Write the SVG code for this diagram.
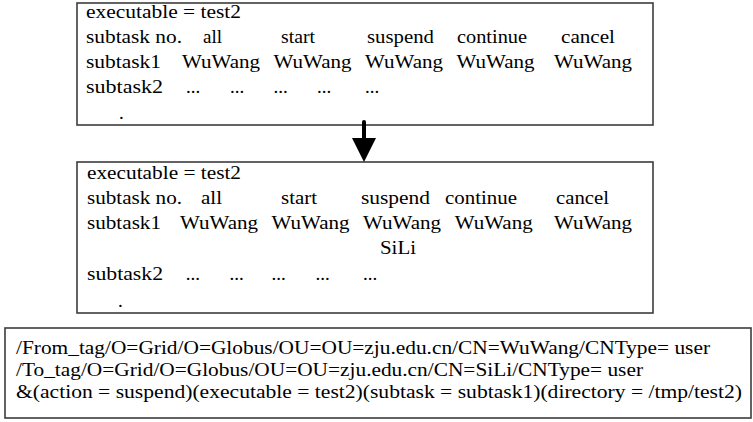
<svg xmlns="http://www.w3.org/2000/svg" width="753" height="422" viewBox="0 0 753 422">
<style>
.box{fill:#fff;stroke:#3c3c3c;stroke-width:1.6}
.t{font-family:"Liberation Serif","Times New Roman",serif;font-size:19px;fill:#000}
.arrow{stroke:#000;stroke-width:4;stroke-linecap:round}
</style>
<rect width="753" height="422" fill="#fff"/>
<g id="node-before">
<rect class="box" x="77" y="3" width="576" height="122"/>
<text class="t" x="86" y="18" textLength="155" lengthAdjust="spacingAndGlyphs">executable = test2</text>
<text class="t" x="86" y="43" textLength="96" lengthAdjust="spacingAndGlyphs">subtask no.</text>
<text class="t" x="203" y="43" textLength="19" lengthAdjust="spacingAndGlyphs">all</text>
<text class="t" x="281" y="43" textLength="34" lengthAdjust="spacingAndGlyphs">start</text>
<text class="t" x="367" y="43" textLength="67" lengthAdjust="spacingAndGlyphs">suspend</text>
<text class="t" x="457" y="43" textLength="70" lengthAdjust="spacingAndGlyphs">continue</text>
<text class="t" x="561" y="43" textLength="54" lengthAdjust="spacingAndGlyphs">cancel</text>
<text class="t" x="86" y="68" textLength="75" lengthAdjust="spacingAndGlyphs">subtask1</text>
<text class="t" x="182" y="68" textLength="78" lengthAdjust="spacingAndGlyphs">WuWang</text>
<text class="t" x="273.5" y="68" textLength="78" lengthAdjust="spacingAndGlyphs">WuWang</text>
<text class="t" x="365" y="68" textLength="78" lengthAdjust="spacingAndGlyphs">WuWang</text>
<text class="t" x="456.6" y="68" textLength="78" lengthAdjust="spacingAndGlyphs">WuWang</text>
<text class="t" x="554" y="68" textLength="78" lengthAdjust="spacingAndGlyphs">WuWang</text>
<text class="t" x="86" y="93" textLength="77" lengthAdjust="spacingAndGlyphs">subtask2</text>
<text class="t" x="186" y="93">...</text>
<text class="t" x="230" y="93">...</text>
<text class="t" x="273.5" y="93">...</text>
<text class="t" x="317" y="93">...</text>
<text class="t" x="365" y="93">...</text>
<text class="t" x="119" y="119">.</text>
</g>
<g id="node-after">
<rect class="box" x="77" y="162" width="576" height="151"/>
<text class="t" x="87" y="179" textLength="154" lengthAdjust="spacingAndGlyphs">executable = test2</text>
<text class="t" x="87" y="204" textLength="95" lengthAdjust="spacingAndGlyphs">subtask no.</text>
<text class="t" x="201" y="204" textLength="21" lengthAdjust="spacingAndGlyphs">all</text>
<text class="t" x="281" y="204" textLength="36" lengthAdjust="spacingAndGlyphs">start</text>
<text class="t" x="361" y="204" textLength="69" lengthAdjust="spacingAndGlyphs">suspend</text>
<text class="t" x="445" y="204" textLength="72" lengthAdjust="spacingAndGlyphs">continue</text>
<text class="t" x="556" y="204" textLength="53" lengthAdjust="spacingAndGlyphs">cancel</text>
<text class="t" x="87" y="229" textLength="74" lengthAdjust="spacingAndGlyphs">subtask1</text>
<text class="t" x="180" y="229" textLength="78" lengthAdjust="spacingAndGlyphs">WuWang</text>
<text class="t" x="271.6" y="229" textLength="78" lengthAdjust="spacingAndGlyphs">WuWang</text>
<text class="t" x="363" y="229" textLength="78" lengthAdjust="spacingAndGlyphs">WuWang</text>
<text class="t" x="454.7" y="229" textLength="78" lengthAdjust="spacingAndGlyphs">WuWang</text>
<text class="t" x="554" y="229" textLength="78" lengthAdjust="spacingAndGlyphs">WuWang</text>
<text class="t" x="380" y="254" textLength="36" lengthAdjust="spacingAndGlyphs">SiLi</text>
<text class="t" x="87" y="280" textLength="76" lengthAdjust="spacingAndGlyphs">subtask2</text>
<text class="t" x="185.7" y="280">...</text>
<text class="t" x="229.6" y="280">...</text>
<text class="t" x="271.6" y="280">...</text>
<text class="t" x="315.4" y="280">...</text>
<text class="t" x="363" y="280">...</text>
<text class="t" x="118" y="307">.</text>
</g>
<g id="node-message">
<rect class="box" x="5" y="328" width="746" height="90"/>
<text class="t" x="16" y="354" textLength="694" lengthAdjust="spacingAndGlyphs">/From_tag/O=Grid/O=Globus/OU=OU=zju.edu.cn/CN=WuWang/CNType= user</text>
<text class="t" x="16" y="376" textLength="627" lengthAdjust="spacingAndGlyphs">/To_tag/O=Grid/O=Globus/OU=OU=zju.edu.cn/CN=SiLi/CNType= user</text>
<text class="t" x="16" y="398" textLength="726" lengthAdjust="spacingAndGlyphs">&amp;(action = suspend)(executable = test2)(subtask = subtask1)(directory = /tmp/test2)</text>
</g>
<g id="connectors">
<line class="arrow" x1="364" y1="122" x2="364" y2="140"/>
<polygon points="352,138 376,138 364,162" fill="#000"/>
</g>
</svg>
